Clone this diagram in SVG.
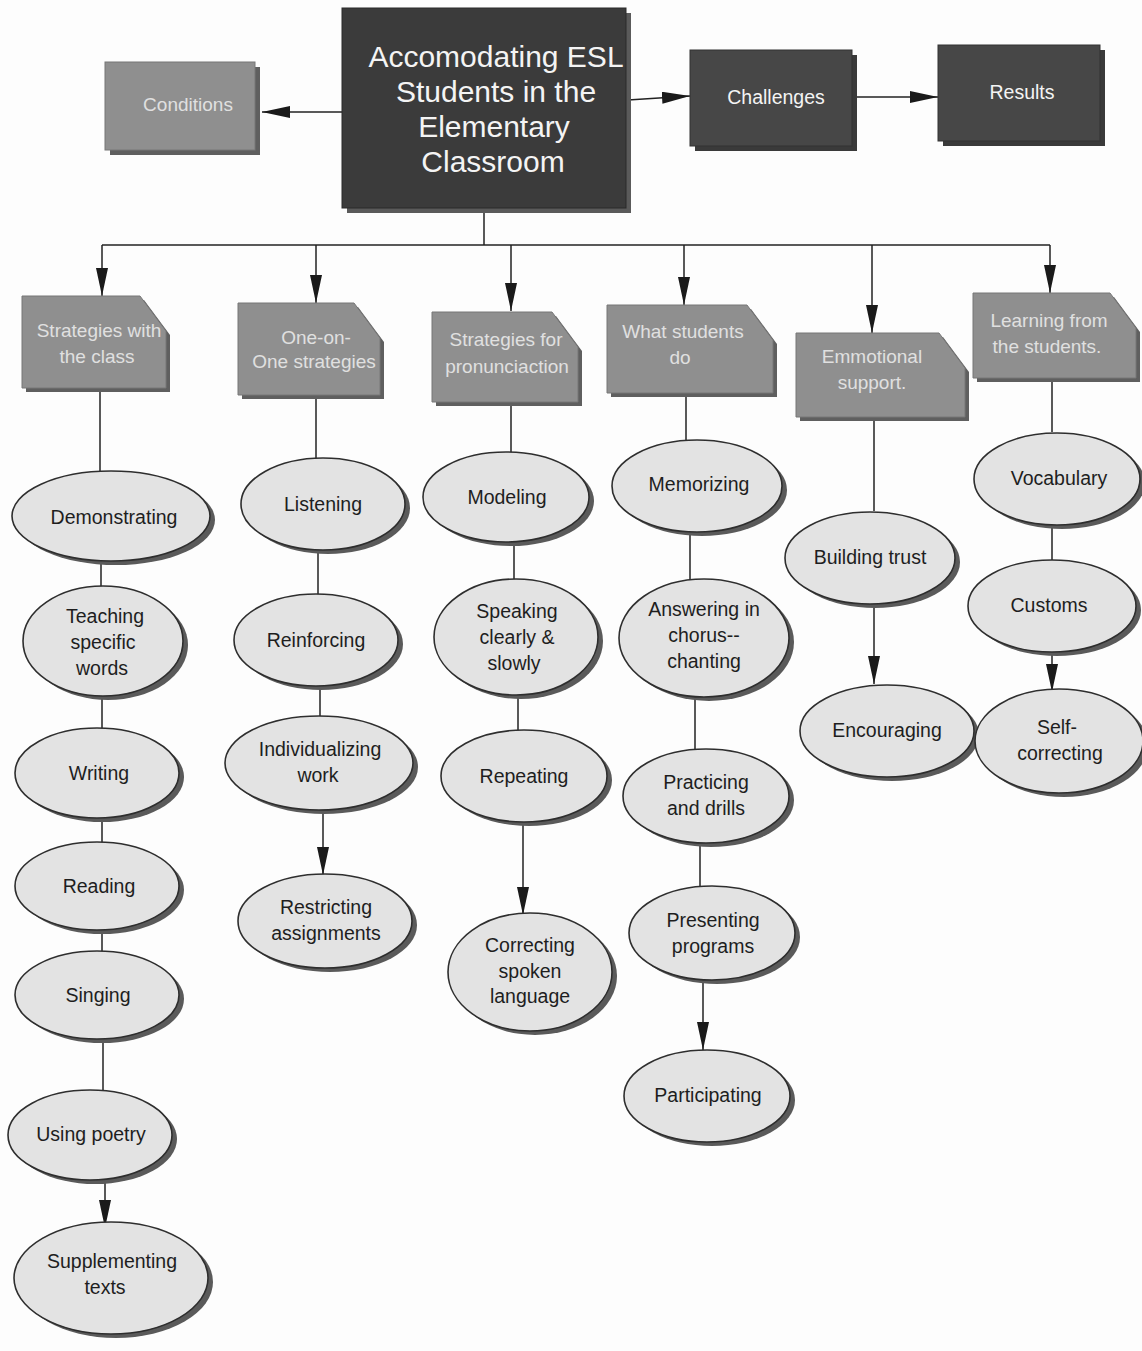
<svg xmlns="http://www.w3.org/2000/svg" width="1142" height="1351" viewBox="0 0 1142 1351">
<style>
.bg{fill:#fdfdfd}
.main{fill:#3b3b3b;stroke:#2a2a2a;stroke-width:1}
.mainsh{fill:#5a5a5a}
.dark{fill:#474747;stroke:#333;stroke-width:1}
.darksh{fill:#3a3a3a}
.mid{fill:#8f8f8f;stroke:#777;stroke-width:1}
.midsh{fill:#5f5f5f}
.ell{fill:#e3e3e3;stroke:#2e2e2e;stroke-width:1.6}
.ellsh{fill:#5a5a5a}
.conn{stroke:#222;stroke-width:1.5;fill:none}
.tw{font-family:"Liberation Sans",Arial,sans-serif;fill:#f4f4f4;text-anchor:middle}
.tl{font-family:"Liberation Sans",Arial,sans-serif;fill:#e0e0e0;text-anchor:middle;font-size:19px}
.tb{font-family:"Liberation Sans",Arial,sans-serif;fill:#1e1e1e;text-anchor:middle;font-size:19.5px}
</style>
<defs>
<marker id="ah" viewBox="0 0 28 12" refX="28" refY="6" markerWidth="28" markerHeight="12" markerUnits="userSpaceOnUse" orient="auto">
<path d="M0,0 L28,6 L0,12 z" fill="#1a1a1a"/>
</marker>
</defs>
<rect class="bg" x="0" y="0" width="1142" height="1351"/>

<g id="connectors">
<line class="conn" x1="342" y1="112" x2="262" y2="112" marker-end="url(#ah)"/>
<line class="conn" x1="628" y1="100" x2="690" y2="96" marker-end="url(#ah)"/>
<line class="conn" x1="854" y1="97" x2="938" y2="97" marker-end="url(#ah)"/>
<line class="conn" x1="484" y1="212" x2="484" y2="245"/>
<line class="conn" x1="102" y1="245" x2="1050" y2="245"/>
<line class="conn" x1="102" y1="245" x2="102" y2="296" marker-end="url(#ah)"/>
<line class="conn" x1="316" y1="245" x2="316" y2="303" marker-end="url(#ah)"/>
<line class="conn" x1="511" y1="245" x2="511" y2="311" marker-end="url(#ah)"/>
<line class="conn" x1="684" y1="245" x2="684" y2="305" marker-end="url(#ah)"/>
<line class="conn" x1="872" y1="245" x2="872" y2="333" marker-end="url(#ah)"/>
<line class="conn" x1="1050" y1="245" x2="1050" y2="293" marker-end="url(#ah)"/>
<!-- column 1 -->
<line class="conn" x1="100" y1="392" x2="100" y2="472"/>
<line class="conn" x1="101" y1="560" x2="101" y2="588"/>
<line class="conn" x1="102" y1="695" x2="102" y2="730"/>
<line class="conn" x1="102" y1="816" x2="102" y2="844"/>
<line class="conn" x1="102" y1="928" x2="102" y2="954"/>
<line class="conn" x1="103" y1="1038" x2="103" y2="1092"/>
<line class="conn" x1="105" y1="1178" x2="105" y2="1228" marker-end="url(#ah)"/>
<!-- column 2 -->
<line class="conn" x1="316" y1="399" x2="316" y2="459"/>
<line class="conn" x1="318" y1="548" x2="318" y2="594"/>
<line class="conn" x1="320" y1="684" x2="320" y2="717"/>
<line class="conn" x1="323" y1="808" x2="323" y2="875" marker-end="url(#ah)"/>
<!-- column 3 -->
<line class="conn" x1="511" y1="406" x2="511" y2="453"/>
<line class="conn" x1="514" y1="541" x2="514" y2="579"/>
<line class="conn" x1="518" y1="695" x2="518" y2="731"/>
<line class="conn" x1="523" y1="820" x2="523" y2="915" marker-end="url(#ah)"/>
<!-- column 4 -->
<line class="conn" x1="686" y1="397" x2="686" y2="440"/>
<line class="conn" x1="690" y1="530" x2="690" y2="579"/>
<line class="conn" x1="695" y1="695" x2="695" y2="749"/>
<line class="conn" x1="700" y1="841" x2="700" y2="887"/>
<line class="conn" x1="703" y1="979" x2="703" y2="1050" marker-end="url(#ah)"/>
<!-- column 5 -->
<line class="conn" x1="874" y1="421" x2="874" y2="511"/>
<line class="conn" x1="874" y1="603" x2="874" y2="684" marker-end="url(#ah)"/>
<!-- column 6 -->
<line class="conn" x1="1052" y1="382" x2="1052" y2="432"/>
<line class="conn" x1="1052" y1="524" x2="1052" y2="560"/>
<line class="conn" x1="1052" y1="651" x2="1052" y2="692" marker-end="url(#ah)"/>
</g>

<g id="main">
<rect class="mainsh" x="347" y="13" width="284" height="200"/>
<rect class="main" x="342" y="8" width="284" height="200"/>
<text class="tw" font-size="30" x="496" y="67">Accomodating ESL</text>
<text class="tw" font-size="30" x="496" y="102">Students in the</text>
<text class="tw" font-size="30" x="494" y="137">Elementary</text>
<text class="tw" font-size="30" x="493" y="172">Classroom</text>
</g>

<g id="conditions">
<rect class="midsh" x="110" y="67" width="150" height="88"/>
<rect class="mid" x="105" y="62" width="150" height="88"/>
<text class="tl" x="188" y="111">Conditions</text>
</g>

<g id="challenges">
<rect class="darksh" x="695" y="55" width="162" height="96"/>
<rect class="dark" x="690" y="50" width="162" height="96"/>
<text class="tw" font-size="19.5" x="776" y="104">Challenges</text>
</g>

<g id="results">
<rect class="darksh" x="943" y="50" width="162" height="96"/>
<rect class="dark" x="938" y="45" width="162" height="96"/>
<text class="tw" font-size="19.5" x="1022" y="99">Results</text>
</g>

<!-- category boxes -->
<g id="cat1">
<polygon class="midsh" points="26,300 144,300 170,335 170,392 26,392"/>
<polygon class="mid" points="22,296 140,296 166,331 166,388 22,388"/>
<text class="tl" x="99" y="337">Strategies with</text>
<text class="tl" x="97" y="363">the class</text>
</g>
<g id="cat2">
<polygon class="midsh" points="242,307 358,307 384,342 384,399 242,399"/>
<polygon class="mid" points="238,303 354,303 380,338 380,395 238,395"/>
<text class="tl" x="316" y="344">One-on-</text>
<text class="tl" x="314" y="368">One strategies</text>
</g>
<g id="cat3">
<polygon class="midsh" points="436,316 556,316 582,351 582,406 436,406"/>
<polygon class="mid" points="432,312 552,312 578,347 578,402 432,402"/>
<text class="tl" x="506" y="346">Strategies for</text>
<text class="tl" x="507" y="373">pronunciaction</text>
</g>
<g id="cat4">
<polygon class="midsh" points="611,309 751,309 777,344 777,397 611,397"/>
<polygon class="mid" points="607,305 747,305 773,340 773,393 607,393"/>
<text class="tl" x="683" y="338">What students</text>
<text class="tl" x="680" y="364">do</text>
</g>
<g id="cat5">
<polygon class="midsh" points="800,337 943,337 969,372 969,421 800,421"/>
<polygon class="mid" points="796,333 939,333 965,368 965,417 796,417"/>
<text class="tl" x="872" y="363">Emmotional</text>
<text class="tl" x="872" y="389">support.</text>
</g>
<g id="cat6">
<polygon class="midsh" points="977,297 1114,297 1140,332 1140,382 977,382"/>
<polygon class="mid" points="973,293 1110,293 1136,328 1136,378 973,378"/>
<text class="tl" x="1049" y="327">Learning from</text>
<text class="tl" x="1047" y="353">the students.</text>
</g>

<!-- column 1 ellipses -->
<g id="demonstrating">
<ellipse class="ellsh" cx="116" cy="520" rx="99" ry="45"/>
<ellipse class="ell" cx="111" cy="516" rx="99" ry="45"/>
<text class="tb" x="114" y="524">Demonstrating</text>
</g>
<g id="teaching">
<ellipse class="ellsh" cx="108" cy="645" rx="80" ry="55"/>
<ellipse class="ell" cx="103" cy="641" rx="80" ry="55"/>
<text class="tb" x="105" y="623">Teaching</text>
<text class="tb" x="103" y="649">specific</text>
<text class="tb" x="102" y="675">words</text>
</g>
<g id="writing">
<ellipse class="ellsh" cx="102" cy="777" rx="82" ry="45"/>
<ellipse class="ell" cx="97" cy="773" rx="82" ry="45"/>
<text class="tb" x="99" y="780">Writing</text>
</g>
<g id="reading">
<ellipse class="ellsh" cx="102" cy="890" rx="82" ry="44"/>
<ellipse class="ell" cx="97" cy="886" rx="82" ry="44"/>
<text class="tb" x="99" y="893">Reading</text>
</g>
<g id="singing">
<ellipse class="ellsh" cx="102" cy="999" rx="82" ry="44"/>
<ellipse class="ell" cx="97" cy="995" rx="82" ry="44"/>
<text class="tb" x="98" y="1002">Singing</text>
</g>
<g id="poetry">
<ellipse class="ellsh" cx="95" cy="1139" rx="82" ry="45"/>
<ellipse class="ell" cx="90" cy="1135" rx="82" ry="45"/>
<text class="tb" x="91" y="1141">Using poetry</text>
</g>
<g id="supplementing">
<ellipse class="ellsh" cx="116" cy="1282" rx="97" ry="56"/>
<ellipse class="ell" cx="111" cy="1278" rx="97" ry="56"/>
<text class="tb" x="112" y="1268">Supplementing</text>
<text class="tb" x="105" y="1294">texts</text>
</g>

<!-- column 2 ellipses -->
<g id="listening">
<ellipse class="ellsh" cx="328" cy="508" rx="82" ry="46"/>
<ellipse class="ell" cx="323" cy="504" rx="82" ry="46"/>
<text class="tb" x="323" y="511">Listening</text>
</g>
<g id="reinforcing">
<ellipse class="ellsh" cx="321" cy="644" rx="82" ry="46"/>
<ellipse class="ell" cx="316" cy="640" rx="82" ry="46"/>
<text class="tb" x="316" y="647">Reinforcing</text>
</g>
<g id="individualizing">
<ellipse class="ellsh" cx="324" cy="767" rx="94" ry="47"/>
<ellipse class="ell" cx="319" cy="763" rx="94" ry="47"/>
<text class="tb" x="320" y="756">Individualizing</text>
<text class="tb" x="318" y="782">work</text>
</g>
<g id="restricting">
<ellipse class="ellsh" cx="330" cy="925" rx="87" ry="47"/>
<ellipse class="ell" cx="325" cy="921" rx="87" ry="47"/>
<text class="tb" x="326" y="914">Restricting</text>
<text class="tb" x="326" y="940">assignments</text>
</g>

<!-- column 3 ellipses -->
<g id="modeling">
<ellipse class="ellsh" cx="511" cy="501" rx="83" ry="45"/>
<ellipse class="ell" cx="506" cy="497" rx="83" ry="45"/>
<text class="tb" x="507" y="504">Modeling</text>
</g>
<g id="speaking">
<ellipse class="ellsh" cx="521" cy="641" rx="82" ry="58"/>
<ellipse class="ell" cx="516" cy="637" rx="82" ry="58"/>
<text class="tb" x="517" y="618">Speaking</text>
<text class="tb" x="517" y="644">clearly &amp;</text>
<text class="tb" x="514" y="670">slowly</text>
</g>
<g id="repeating">
<ellipse class="ellsh" cx="529" cy="780" rx="83" ry="46"/>
<ellipse class="ell" cx="524" cy="776" rx="83" ry="46"/>
<text class="tb" x="524" y="783">Repeating</text>
</g>
<g id="correcting">
<ellipse class="ellsh" cx="535" cy="976" rx="82" ry="59"/>
<ellipse class="ell" cx="530" cy="972" rx="82" ry="59"/>
<text class="tb" x="530" y="952">Correcting</text>
<text class="tb" x="530" y="978">spoken</text>
<text class="tb" x="530" y="1003">language</text>
</g>

<!-- column 4 ellipses -->
<g id="memorizing">
<ellipse class="ellsh" cx="702" cy="490" rx="85" ry="46"/>
<ellipse class="ell" cx="697" cy="486" rx="85" ry="46"/>
<text class="tb" x="699" y="491">Memorizing</text>
</g>
<g id="answering">
<ellipse class="ellsh" cx="709" cy="642" rx="85" ry="59"/>
<ellipse class="ell" cx="704" cy="638" rx="85" ry="59"/>
<text class="tb" x="704" y="616">Answering in</text>
<text class="tb" x="704" y="642">chorus--</text>
<text class="tb" x="704" y="668">chanting</text>
</g>
<g id="practicing">
<ellipse class="ellsh" cx="711" cy="800" rx="83" ry="47"/>
<ellipse class="ell" cx="706" cy="796" rx="83" ry="47"/>
<text class="tb" x="706" y="789">Practicing</text>
<text class="tb" x="706" y="815">and drills</text>
</g>
<g id="presenting">
<ellipse class="ellsh" cx="717" cy="937" rx="83" ry="47"/>
<ellipse class="ell" cx="712" cy="933" rx="83" ry="47"/>
<text class="tb" x="713" y="927">Presenting</text>
<text class="tb" x="713" y="953">programs</text>
</g>
<g id="participating">
<ellipse class="ellsh" cx="712" cy="1100" rx="83" ry="46"/>
<ellipse class="ell" cx="707" cy="1096" rx="83" ry="46"/>
<text class="tb" x="708" y="1102">Participating</text>
</g>

<!-- column 5 ellipses -->
<g id="building">
<ellipse class="ellsh" cx="875" cy="562" rx="85" ry="46"/>
<ellipse class="ell" cx="870" cy="558" rx="85" ry="46"/>
<text class="tb" x="870" y="564">Building trust</text>
</g>
<g id="encouraging">
<ellipse class="ellsh" cx="892" cy="735" rx="87" ry="46"/>
<ellipse class="ell" cx="887" cy="731" rx="87" ry="46"/>
<text class="tb" x="887" y="737">Encouraging</text>
</g>

<!-- column 6 ellipses -->
<g id="vocabulary">
<ellipse class="ellsh" cx="1062" cy="483" rx="83" ry="46"/>
<ellipse class="ell" cx="1057" cy="479" rx="83" ry="46"/>
<text class="tb" x="1059" y="485">Vocabulary</text>
</g>
<g id="customs">
<ellipse class="ellsh" cx="1057" cy="610" rx="84" ry="46"/>
<ellipse class="ell" cx="1052" cy="606" rx="84" ry="46"/>
<text class="tb" x="1049" y="612">Customs</text>
</g>
<g id="selfcorrecting">
<ellipse class="ellsh" cx="1064" cy="745" rx="84" ry="52"/>
<ellipse class="ell" cx="1059" cy="741" rx="84" ry="52"/>
<text class="tb" x="1057" y="734">Self-</text>
<text class="tb" x="1060" y="760">correcting</text>
</g>
</svg>
